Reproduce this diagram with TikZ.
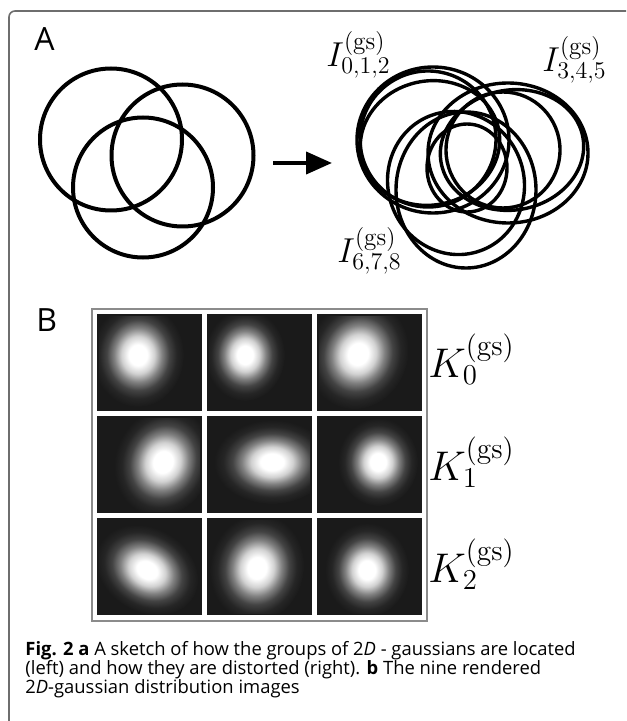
\documentclass[tikz,border=0pt]{standalone}
\usepackage{fontspec}
\setsansfont{Open Sans}
\usetikzlibrary{arrows.meta}

\definecolor{cellgray}{HTML}{1A1A1A}
\definecolor{framegray}{HTML}{6E6E6E}
\pgfdeclareradialshading{gblob}{\pgfpoint{0bp}{0bp}}{color(0bp)=(white); color(5bp)=(white); color(9bp)=(white!80!cellgray); color(13bp)=(white!45!cellgray); color(17bp)=(white!18!cellgray); color(21bp)=(white!5!cellgray); color(25bp)=(cellgray); color(50bp)=(cellgray)}

\begin{document}
\begin{tikzpicture}[x=0.5pt, y=-0.5pt]
        % Common Styles
        \tikzset{ring/.style={line width=2pt}}
        \tikzset{warp/.style={line width=1.7pt}}
        \tikzset{panel/.style={font=\sffamily\fontsize{16}{16}\selectfont, anchor=base west, inner sep=0pt}}
        \tikzset{ilabel/.style={font=\fontsize{18}{18}\selectfont, anchor=base west, inner sep=0pt}}
        \tikzset{klabel/.style={font=\fontsize{21}{21}\selectfont, anchor=base west, inner sep=0pt}}

        \useasboundingbox[fill=white] (0,0) rectangle (626,721);
        \draw[framegray, line width=0.8pt, rounded corners=3pt] (9,721) -- (9,11) -- (626,11);

        % A. Groups located, then distorted
        \node[panel] (labA) at (34,51) {A};
        \draw[ring] (111,139.5) circle[radius=71];
        \draw[ring] (182.5,155.5) circle[radius=71];
        \draw[ring] (143,187.5) circle[radius=70];

        \coordinate (arrS) at (273,163);
        \coordinate (arrE) at (332,163);
        \draw[line width=2pt, -{Triangle[length=13pt, width=11pt]}] (arrS) -- (arrE);

        \draw[warp] (433,140) ellipse[x radius=76, y radius=73];
        \draw[warp, rotate around={-15:(428,139)}] (428,139) ellipse[x radius=68, y radius=68];
        \draw[warp, rotate around={12:(430,143)}] (430,143) ellipse[x radius=70, y radius=62];
        \draw[warp] (508,153) ellipse[x radius=80, y radius=70];
        \draw[warp, rotate around={10:(512,150)}] (512,150) ellipse[x radius=72, y radius=60];
        \draw[warp] (503,150) ellipse[x radius=57, y radius=58];
        \draw[warp] (466,190) ellipse[x radius=70, y radius=78];
        \draw[warp, rotate around={20:(456,183)}] (456,183) ellipse[x radius=68, y radius=72];
        \draw[warp] (467,168) ellipse[x radius=40, y radius=44];

        \node[ilabel] (I012) at (326,67) {$I^{(\mathrm{gs})}_{0,1,2}$};
        \node[ilabel] (I345) at (542,72) {$I^{(\mathrm{gs})}_{3,4,5}$};
        \node[ilabel] (I678) at (337,263) {$I^{(\mathrm{gs})}_{6,7,8}$};

        % B. Rendered images
        \node[panel] (labB) at (36,331) {B};
        \draw[framegray!80, line width=0.6pt] (92,309) rectangle (427,621);
        \foreach \col/\row/\bx/\by/\rx/\ry/\ang in {
            0/0/138/355/46/52/0, 1/0/245/355/40/46/0, 2/0/358/354/50/56/-20,
            0/1/163/462/48/55/-20, 1/1/272/462/58/42/0, 2/1/378/462/40/44/0,
            0/2/147/570/54/42/-30, 1/2/257/568/47/54/-10, 2/2/367/570/42/47/0} {
            \fill[cellgray] (97+110*\col,314+102*\row) rectangle ++(105,97);
            \begin{scope}
                \clip (99+110*\col,316+102*\row) rectangle ++(101,93);
                \begin{scope}[transform canvas={shift={(\bx,\by)}, rotate=\ang}]
                    \shade[shading=gblob] (0,0) ellipse[x radius=\rx, y radius=\ry];
                \end{scope}
            \end{scope}
        }
        \node[klabel] (K0) at (428,377) {$K^{(\mathrm{gs})}_0$};
        \node[klabel] (K1) at (428,480) {$K^{(\mathrm{gs})}_1$};
        \node[klabel] (K2) at (428,582) {$K^{(\mathrm{gs})}_2$};

        % Caption
        \node[anchor=north west, align=left, inner sep=0pt, font=\sffamily\fontsize{9.2}{9.4}\selectfont] (cap) at (25,641)
            {\textbf{Fig. 2 a} A sketch of how the groups of 2\textit{D} - gaussians are located\\
             (left) and how they are distorted (right). \textbf{b} The nine rendered\\
             2\textit{D}-gaussian distribution images};
\end{tikzpicture}
\end{document}
